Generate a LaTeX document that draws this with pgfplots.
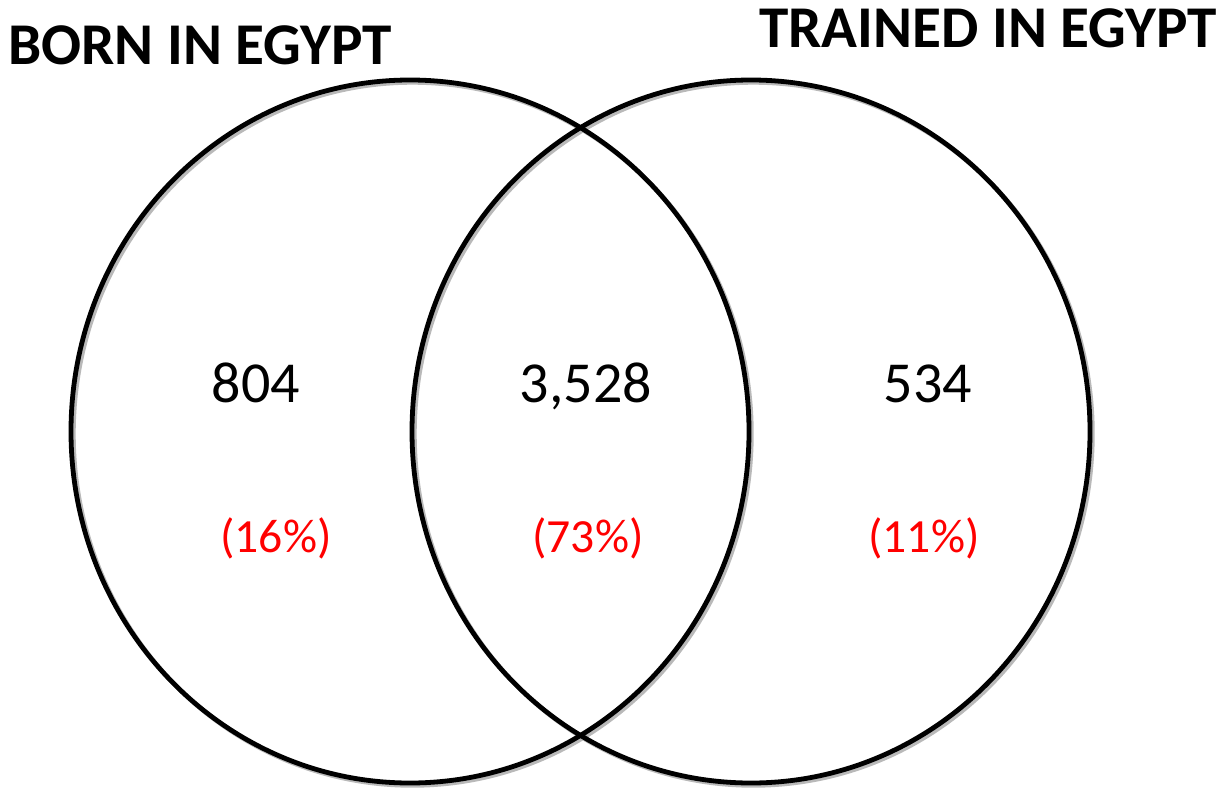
\documentclass[border=0pt]{standalone}
\usepackage{pgfplots}
\pgfplotsset{compat=1.18}
\usepackage{fontspec}
\setmainfont{Carlito}
\begin{document}
\begin{tikzpicture}
\begin{axis}[
  width=609.5pt, height=394.5pt, scale only axis,
  xmin=0, xmax=1219, ymin=0, ymax=789,
  hide axis, clip=false,
]
% circles (centre x, centre y, x radius, y radius), in pixel units of the picture
\draw[gray!55, line width=2.3pt] ([xshift=1.2pt,yshift=-1.2pt]axis cs:410,357.5) ellipse [x radius=339, y radius=351.5];
\draw[gray!55, line width=2.3pt] ([xshift=1.2pt,yshift=-1.2pt]axis cs:751,357.5) ellipse [x radius=339, y radius=351.5];
\draw[black, line width=2.4pt] (axis cs:410,357.5) ellipse [x radius=339, y radius=351.5];
\draw[black, line width=2.4pt] (axis cs:751,357.5) ellipse [x radius=339, y radius=351.5];
% counts
\addplot[only marks, mark=none, nodes near coords, point meta=explicit symbolic,
  every node near coord/.style={anchor=base, inner sep=0pt, font=\fontsize{29pt}{34pt}\selectfont, text=black}]
  table[meta=label] {
x y label
256 387 804
586 387 3,528
928 387 534
};
% shares
\addplot[only marks, mark=none, nodes near coords, point meta=explicit symbolic,
  every node near coord/.style={anchor=base, inner sep=0pt, font=\fontsize{23.8pt}{28pt}\selectfont, text=red}]
  table[meta=label] {
x y label
276 237 (16\%)
588 237 (73\%)
924 237 (11\%)
};
% set titles
\addplot[only marks, mark=none, nodes near coords, point meta=explicit symbolic,
  every node near coord/.style={anchor=base, inner sep=0pt, font=\bfseries\fontsize{29.6pt}{34pt}\selectfont, text=black}]
  table[meta=label] {
x y label
200 724 {BORN IN EGYPT}
988 741 {TRAINED IN EGYPT}
};
\coordinate (SW) at (axis cs:0,0);
\coordinate (NE) at (axis cs:1219,789);
\end{axis}
\pgfresetboundingbox
\useasboundingbox (SW) rectangle (NE);
\end{tikzpicture}
\end{document}
